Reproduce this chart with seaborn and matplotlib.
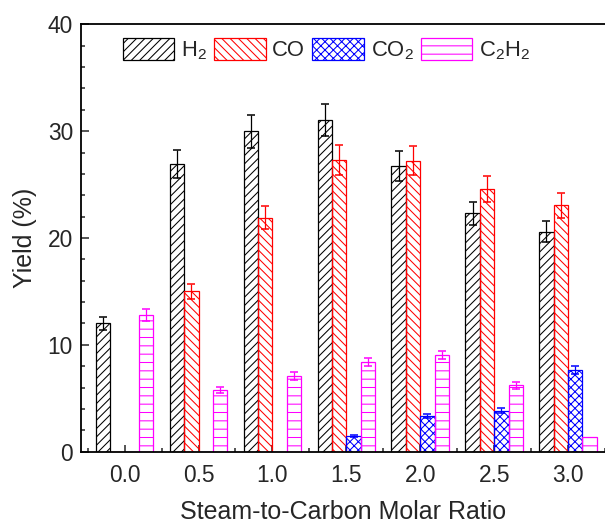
import numpy as np
import pandas as pd
import seaborn as sns
import matplotlib.pyplot as plt
from matplotlib.ticker import MultipleLocator, AutoMinorLocator, FixedLocator

# values (yield %, error = +/-)
ratios = ['0.0', '0.5', '1.0', '1.5', '2.0', '2.5', '3.0']
gases = ['H2', 'CO', 'CO2', 'C2H2']
gas_labels = ['H$_2$', 'CO', 'CO$_2$', 'C$_2$H$_2$']

h2 = [12.0, 26.9, 30.0, 31.0, 26.75, 22.3, 20.6]
h2_err = [0.6, 1.3, 1.55, 1.5, 1.4, 1.1, 1.0]
co = [0, 15.0, 21.9, 27.3, 27.25, 24.6, 23.05]
co_err = [0, 0.7, 1.1, 1.4, 1.4, 1.2, 1.2]
co2 = [0, 0, 0, 1.5, 3.35, 3.85, 7.65]
co2_err = [0, 0, 0, 0.1, 0.15, 0.2, 0.4]
c2h2 = [12.8, 5.75, 7.1, 8.4, 9.05, 6.2, 1.4]
c2h2_err = [0.6, 0.3, 0.35, 0.4, 0.4, 0.3, 0]

colors = ['black', 'red', 'blue', 'magenta']
hatches = ['////', '\\\\\\\\', 'xxxx', '--']

vals = {'H2': h2, 'CO': co, 'CO2': co2, 'C2H2': c2h2}
errs = {'H2': h2_err, 'CO': co_err, 'CO2': co2_err, 'C2H2': c2h2_err}

df = pd.DataFrame({
    'ratio': np.tile(ratios, len(gases)),
    'gas': np.repeat(gases, len(ratios)),
    'yield': np.concatenate([vals[g] for g in gases]),
})

sns.set_style('ticks')
plt.rcParams['font.family'] = ['Liberation Sans', 'DejaVu Sans']
plt.rcParams['mathtext.fontset'] = 'custom'
plt.rcParams['mathtext.rm'] = 'Liberation Sans'
plt.rcParams['mathtext.it'] = 'Liberation Sans:italic'
plt.rcParams['hatch.linewidth'] = 0.75

fig = plt.figure(figsize=(6.05, 5.25), dpi=100)
ax = fig.add_axes([81 / 605, 73.3 / 525, 524 / 605, 427.4 / 525])

sns.barplot(data=df, x='ratio', y='yield', hue='gas', order=ratios, hue_order=gases,
            palette=colors, errorbar=None, width=0.78, fill=False, legend=False, ax=ax)

for cont, g, c, h in zip(ax.containers, gases, colors, hatches):
    xs, ys, es = [], [], []
    for bar, v, e in zip(cont.patches, vals[g], errs[g]):
        bar.set_facecolor('none')
        bar.set_edgecolor(c)
        bar.set_hatch(h)
        bar.set_linewidth(0.9)
        if e > 0:
            xs.append(bar.get_x() + bar.get_width() / 2)
            ys.append(bar.get_height())
            es.append(e)
    ax.errorbar(xs, ys, yerr=es, fmt='none', ecolor=c, elinewidth=0.9,
                capsize=2.9, capthick=1.1, zorder=3)

ax.set_xlim(-0.59, 6.5)
ax.set_ylim(0, 40)
ax.yaxis.set_major_locator(MultipleLocator(10))
ax.yaxis.set_minor_locator(AutoMinorLocator(5))
ax.xaxis.set_minor_locator(FixedLocator(np.arange(-0.5, 7, 1)))

ax.tick_params(which='both', direction='in', width=1.1, labelsize=16.4, top=False, right=False)
ax.tick_params(which='major', length=5.4)
ax.tick_params(which='minor', length=2.9)
ax.tick_params(axis='x', pad=8.5)
ax.tick_params(axis='y', pad=5.8)

for s in ['left', 'bottom', 'top']:
    ax.spines[s].set_linewidth(1.3)
    ax.spines[s].set_color('black')
ax.spines['right'].set_visible(False)

ax.set_xlabel('Steam-to-Carbon Molar Ratio', fontsize=18, labelpad=10)
ax.set_ylabel('Yield (%)', fontsize=18, labelpad=8)

ax.legend(ax.containers, gas_labels, loc='upper left', bbox_to_anchor=(0.0796, 0.968),
          frameon=False, ncol=4, fontsize=15.8, handlelength=2.36, handleheight=1.17,
          handletextpad=0.3, columnspacing=0.32, borderpad=0, borderaxespad=0)

fig.savefig('out.png', dpi=100)
